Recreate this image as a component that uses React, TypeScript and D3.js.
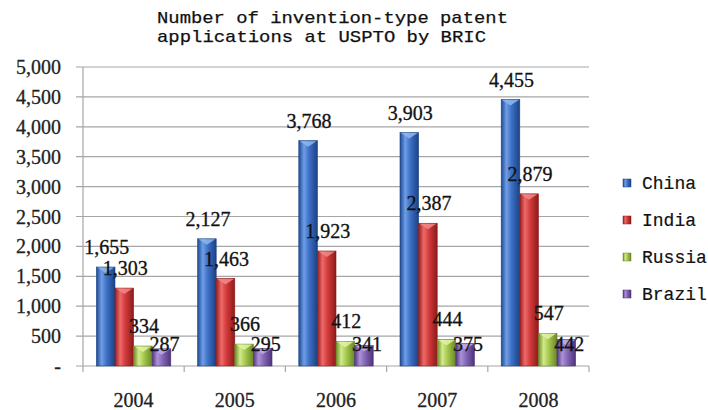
import React from "react";
import * as d3 from "d3";

const years = ["2004", "2005", "2006", "2007", "2008"];
const seriesNames = ["China", "India", "Russia", "Brazil"];
const china = [1655, 2127, 3768, 3903, 4455];
const india = [1303, 1463, 1923, 2387, 2879];
const russia = [334, 366, 412, 444, 547];
const brazil = [287, 295, 341, 375, 442];
const yTicks = [0, 500, 1000, 1500, 2000, 2500, 3000, 3500, 4000, 4500, 5000];
const titleLines = ["Number of invention-type patent", "applications at USPTO by BRIC"];

const seriesValues = [china, india, russia, brazil];

// dark edge, highlight, body, dark edge, top cap
const palettes = [
  ["#1d4a92", "#6f9ee6", "#3d70c6", "#1b4284", "#8fb6f0"],
  ["#9a1d1d", "#ee6a6a", "#d23b3b", "#8e1a1a", "#f08a8a"],
  ["#6c8a25", "#d2ea8c", "#a6c94f", "#6a8724", "#e0f2a6"],
  ["#4f367e", "#ae92d6", "#8567b6", "#4d337a", "#c3ace4"],
];

const W = 708;
const H = 410;
const plot = { left: 83, right: 589, top: 67, bottom: 366 };

export default function App() {
  const x0 = d3
    .scaleBand<string>()
    .domain(years)
    .range([plot.left, plot.right])
    .paddingInner(0)
    .paddingOuter(0);
  const x1 = d3
    .scaleBand<string>()
    .domain(seriesNames)
    .range([0, x0.bandwidth()])
    .paddingInner(0)
    .paddingOuter(0.72);
  const y = d3.scaleLinear().domain([0, 5000]).range([plot.bottom, plot.top]);
  const fmt = d3.format(",");
  const bw = x1.bandwidth();

  const labelFont = "'Liberation Serif', 'DejaVu Serif', serif";
  const monoFont = "'Liberation Mono', 'DejaVu Sans Mono', monospace";

  return (
    <svg width={W} height={H} style={{ position: "absolute", left: 0, top: 0, background: "#fff" }}>
      <defs>
        {palettes.map((p, i) => (
          <linearGradient key={i} id={`bar-grad-${i}`} x1="0" x2="1" y1="0" y2="0">
            <stop offset="0%" stopColor={p[0]} />
            <stop offset="28%" stopColor={p[1]} />
            <stop offset="55%" stopColor={p[2]} />
            <stop offset="100%" stopColor={p[3]} />
          </linearGradient>
        ))}
      </defs>

      {/* title */}
      <g fontFamily={monoFont} fontSize={17} fill="#111" stroke="#111" strokeWidth={0.25}>
        <text x={157} y={23} textLength={351} lengthAdjust="spacingAndGlyphs">
          {titleLines[0]}
        </text>
        <text x={157} y={42} textLength={329} lengthAdjust="spacingAndGlyphs">
          {titleLines[1]}
        </text>
      </g>

      {/* gridlines and y axis labels */}
      {yTicks.map((t) => (
        <g key={t}>
          <line x1={plot.left - 7} x2={plot.right} y1={y(t)} y2={y(t)} stroke="#a6a6a6" strokeWidth={1.2} />
          <text
            x={61}
            y={y(t)}
            dy="0.35em"
            textAnchor="end"
            fontFamily={labelFont}
            fontSize={20}
            fill="#222"
            stroke="#222"
            strokeWidth={0.3}
          >
            {t === 0 ? "-" : fmt(t)}
          </text>
        </g>
      ))}
      <line x1={plot.left} x2={plot.left} y1={plot.top} y2={plot.bottom + 6} stroke="#a6a6a6" strokeWidth={1.2} />
      {years.map((yr) => (
        <line
          key={yr}
          x1={(x0(yr) as number) + x0.bandwidth()}
          x2={(x0(yr) as number) + x0.bandwidth()}
          y1={plot.bottom}
          y2={plot.bottom + 6}
          stroke="#a6a6a6"
          strokeWidth={1.2}
        />
      ))}

      {/* bars */}
      {years.map((yr, i) => (
        <g key={yr} transform={`translate(${x0(yr)},0)`}>
          {seriesNames.map((s, si) => {
            const v = seriesValues[si][i];
            const bx = x1(s) as number;
            const top = y(v);
            const p = palettes[si];
            return (
              <g key={s}>
                <rect
                  x={bx}
                  y={top}
                  width={bw}
                  height={plot.bottom - top}
                  fill={`url(#bar-grad-${si})`}
                  stroke={p[3]}
                  strokeWidth={0.6}
                />
                <polygon
                  points={`${bx + 1},${top + 0.5} ${bx + bw - 1},${top + 0.5} ${bx + bw / 2},${top + 6}`}
                  fill={p[4]}
                  opacity={0.85}
                />
              </g>
            );
          })}
        </g>
      ))}

      {/* value labels */}
      {years.map((yr, i) => (
        <g
          key={yr}
          transform={`translate(${x0(yr)},0)`}
          fontFamily={labelFont}
          fontSize={20}
          fill="#111"
          stroke="#111"
          strokeWidth={0.3}
        >
          {seriesNames.map((s, si) => {
            const v = seriesValues[si][i];
            const cx = (x1(s) as number) + bw / 2 + (si === 3 ? 3 : 1);
            const ly = si === 3 ? y(0) - 15 : y(v) - 13;
            return (
              <text key={s} x={cx} y={ly} textAnchor="middle">
                {fmt(v)}
              </text>
            );
          })}
        </g>
      ))}

      {/* x axis labels */}
      {years.map((yr) => (
        <text
          key={yr}
          x={(x0(yr) as number) + x0.bandwidth() / 2}
          y={407}
          textAnchor="middle"
          fontFamily={labelFont}
          fontSize={20}
          fill="#222"
          stroke="#222"
          strokeWidth={0.3}
        >
          {yr}
        </text>
      ))}

      {/* legend */}
      {seriesNames.map((s, si) => (
        <g key={s} transform={`translate(623,${183 + si * 37})`}>
          <rect x={0} y={-4} width={8} height={8} fill={`url(#bar-grad-${si})`} stroke={palettes[si][3]} strokeWidth={0.5} />
          <text x={19} y={6} fontFamily={monoFont} fontSize={18} fill="#111" stroke="#111" strokeWidth={0.2}>
            {s}
          </text>
        </g>
      ))}
    </svg>
  );
}
